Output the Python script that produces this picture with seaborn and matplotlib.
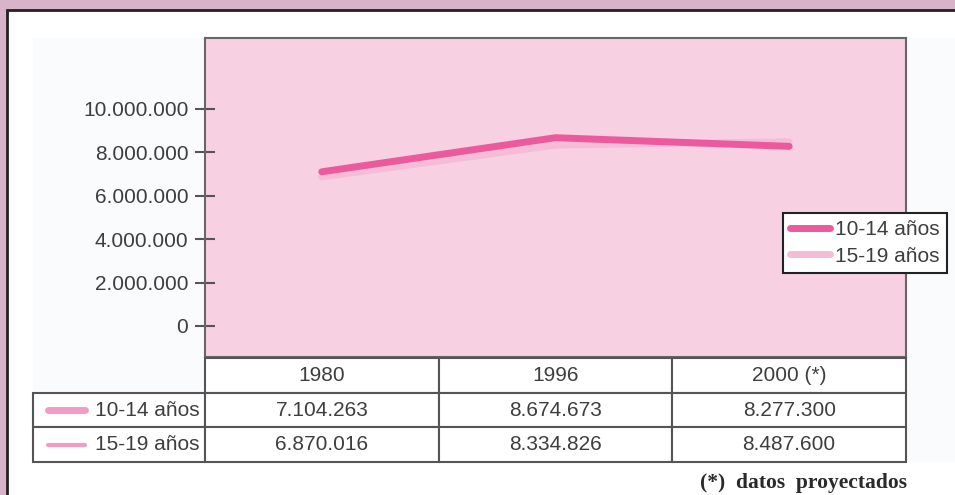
import numpy as np
import pandas as pd
import matplotlib
matplotlib.use("Agg")
import matplotlib.pyplot as plt
from matplotlib.patches import Rectangle
from matplotlib.lines import Line2D
from matplotlib.table import Table
import seaborn as sns

# data
years = ["1980", "1996", "2000 (*)"]
groups = ["10-14 años", "15-19 años"]
pop_10_14 = [7104263, 8674673, 8277300]
pop_15_19 = [6870016, 8334826, 8487600]
yticks = [0, 2000000, 4000000, 6000000, 8000000, 10000000]
footnote = "(*)  datos  proyectados"

sns.set_style("white")
plt.rcParams["font.family"] = ["Liberation Sans", "DejaVu Sans"]

W, H = 955, 495
colors = {"10-14 años": "#ea5a9c", "15-19 años": "#f5bcd7"}
txt_col = "#3e3e3e"
edge_col = "#555555"


def fmt(v):
    return f"{v:,.0f}".replace(",", ".")


df = pd.DataFrame({
    "año": years * 2,
    "poblacion": pop_10_14 + pop_15_19,
    "grupo": [groups[0]] * 3 + [groups[1]] * 3,
})

fig = plt.figure(figsize=(W / 100, H / 100), dpi=100)
fig.patch.set_facecolor("#d9b3c7")

# white panel with dark border (behind the axes)
fig.add_artist(Rectangle((7 / W, -0.05), 1.0, 1 - 10 / H + 0.05,
                         transform=fig.transFigure, facecolor="white",
                         edgecolor="#222222", lw=2, zorder=-2))
fig.add_artist(Rectangle((33 / W, 1 - 462 / H), 1.0, (462 - 38) / H,
                         transform=fig.transFigure, facecolor="#fafbfd",
                         edgecolor="none", zorder=-1))

ax = fig.add_axes([205 / W, 1 - 357 / H, 701 / W, 319 / H])
ax.set_facecolor("#f7d0e2")

sns.lineplot(data=df, x="año", y="poblacion", hue="grupo",
             hue_order=[groups[1], groups[0]], palette=colors,
             linewidth=5, legend=False, sort=False, ax=ax,
             solid_capstyle="round")

ax.set_xlim(-0.5, 2.5)
ax.set_ylim(-1430000, 13270000)
ax.set_yticks(yticks)
ax.set_yticklabels([fmt(v) for v in yticks])
ax.tick_params(axis="y", left=True, direction="inout", length=14, width=1.5,
               color=edge_col, labelsize=15, labelcolor=txt_col, pad=5)
ax.tick_params(axis="x", bottom=False, labelbottom=False)
ax.set_xlabel("")
ax.set_ylabel("")
for sp in ax.spines.values():
    sp.set_visible(True)
    sp.set_color("#666666")
    sp.set_linewidth(1.5)

handles = [Line2D([], [], color=colors[g], lw=5) for g in groups]
leg = ax.legend(handles, groups, loc="upper left",
                bbox_to_anchor=(783 / W, 1 - 213 / H),
                bbox_transform=fig.transFigure, frameon=True, fancybox=False,
                edgecolor="#222222", framealpha=1, borderaxespad=0,
                handlelength=1.9, handletextpad=0.25, labelspacing=0.35,
                borderpad=0.35, fontsize=15)
leg.get_frame().set_linewidth(1.5)
for t in leg.get_texts():
    t.set_color(txt_col)

# data table under the plot
tax = fig.add_axes([33 / W, 1 - 462 / H, 873 / W, 104 / H])
tax.axis("off")
label_w = 172 / 873
col_w = (1 - label_w) / len(years)
row_h = 1 / 3
rows = [[fmt(v) for v in pop_10_14], [fmt(v) for v in pop_15_19]]

tbl = Table(tax, bbox=[0, 0, 1, 1])
for j, yr in enumerate(years):
    tbl.add_cell(0, j + 1, col_w, row_h, text=yr, loc="center")
for i, g in enumerate(groups):
    c = tbl.add_cell(i + 1, 0, label_w, row_h, text=g, loc="right")
    c.PAD = 0.03
    for j, val in enumerate(rows[i]):
        tbl.add_cell(i + 1, j + 1, col_w, row_h, text=val, loc="center")
tbl.auto_set_font_size(False)
tbl.set_fontsize(15)
for cell in tbl.get_celld().values():
    cell.set_edgecolor(edge_col)
    cell.set_linewidth(1.5)
    cell.set_facecolor("white")
    cell.get_text().set_color(txt_col)
tax.add_table(tbl)

# swatches in the row labels
swatch_w = [5, 3]
for i, g in enumerate(groups):
    yc = 1 - (i + 1.5) * row_h
    tax.add_line(Line2D([0.017, 0.06], [yc, yc], color="#f29cc5",
                        lw=swatch_w[i], solid_capstyle="round",
                        transform=tax.transAxes, zorder=5))

fig.text(907 / W, 1 - 488 / H, footnote, ha="right", va="baseline",
         family=["Liberation Serif", "DejaVu Serif"], fontweight="bold",
         fontsize=15.5, color="#2a2a2a")

fig.savefig("out.png", dpi=100, facecolor=fig.get_facecolor())
